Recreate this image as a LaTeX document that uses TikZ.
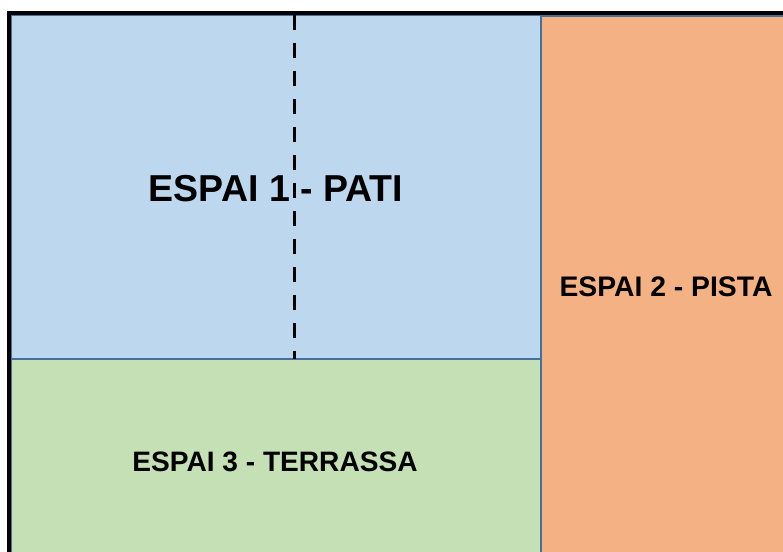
\documentclass[tikz,border=0pt]{standalone}
\usepackage{fontspec}
\setmainfont{Liberation Sans}
\definecolor{pati}{HTML}{BDD7EE}
\definecolor{pista}{HTML}{F4B183}
\definecolor{terrassa}{HTML}{C5E0B4}
\definecolor{edge}{HTML}{41719C}
\begin{document}
\begin{tikzpicture}[x=1pt,y=-1pt,
  zone/.style={draw=edge,line width=1.2pt},
  label/.style={inner sep=0pt,anchor=center}]
\useasboundingbox (0,0) rectangle (783,551);
\clip (0,0) rectangle (783,551);
\fill[white] (0,0) rectangle (783,551);
% zones
\filldraw[zone,fill=pati] (11,15) rectangle (541,359);
\filldraw[zone,fill=pista] (541,16) rectangle (800,570);
\filldraw[zone,fill=terrassa] (11,359) rectangle (541,570);
% outer wall
\draw[line width=4pt,line cap=rect] (9,570) -- (9,13) -- (800,13);
% dashed division
\draw[line width=3.5pt,dash pattern=on 15pt off 13pt] (294.5,15) -- (294.5,359);
% labels
\node[label,font=\bfseries\fontsize{37.5}{40}\selectfont] (t1) at (276,189) {ESPAI 1 - PATI};
\node[label,font=\bfseries\fontsize{28.3}{30}\selectfont] (t2) at (666,287) {ESPAI 2 - PISTA};
\node[label,font=\bfseries\fontsize{28.1}{30}\selectfont] (t3) at (275,462) {ESPAI 3 - TERRASSA};
\end{tikzpicture}
\end{document}
